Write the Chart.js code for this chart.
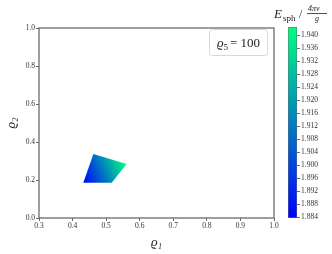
<!DOCTYPE html>
<html>
<head>
<meta charset="utf-8">
<script src="https://cdn.jsdelivr.net/npm/chart.js@4.4.0/dist/chart.umd.min.js"></script>
<style>
  body { margin: 0; background: #fff; }
  #wrap { position: relative; width: 332px; height: 254px; }
  #main { position: absolute; left: 0; top: 0; }
  #cbar { position: absolute; left: 280px; top: 0; }
</style>
</head>
<body>
<div id="wrap">
  <canvas id="main" width="332" height="254"></canvas>
  <canvas id="cbar" width="52" height="254"></canvas>
</div>
<script>
// region corners (rho1, rho2), closed
const polyX = [0.432, 0.462, 0.561, 0.5165, 0.432];
const polyY = [0.186, 0.337, 0.284, 0.186, 0.186];
// energy at the low and high corners of the region
const eLow = 1.884;
const eHigh = 1.942;
const cbMin = 1.8837;
const cbMax = 1.9425;
const cbTicks = [1.884, 1.888, 1.892, 1.896, 1.900, 1.904, 1.908, 1.912, 1.916, 1.920, 1.924, 1.928, 1.932, 1.936, 1.940];
const rhoFive = 100;

const serif = '"Liberation Serif", "DejaVu Serif", serif';
const frameColor = '#6a6a6a';

function winter(v) {
  const t = Math.max(0, Math.min(1, (v - cbMin) / (cbMax - cbMin)));
  return 'rgb(0,' + Math.round(255 * t) + ',' + Math.round(255 * (1 - 0.5 * t)) + ')';
}

const points = polyX.map((x, i) => ({x: x, y: polyY[i]}));

const framePlugin = {
  id: 'frame',
  afterDraw(chart) {
    const {ctx, chartArea: a} = chart;
    ctx.save();
    ctx.strokeStyle = frameColor;
    ctx.lineWidth = 1.3;
    ctx.strokeRect(a.left, a.top, a.right - a.left, a.bottom - a.top);

    // legend-like label box
    const bx = 209.5, by = 29.5, bw = 58, bh = 26, r = 3;
    ctx.fillStyle = 'rgba(255,255,255,0.8)';
    ctx.strokeStyle = '#d8d8d8';
    ctx.lineWidth = 1;
    ctx.beginPath();
    ctx.roundRect(bx, by, bw, bh, r);
    ctx.fill();
    ctx.stroke();
    ctx.fillStyle = '#222';
    ctx.textBaseline = 'alphabetic';
    ctx.font = 'italic 13px ' + serif;
    ctx.fillText('ϱ', 217, 47);
    ctx.font = '9px ' + serif;
    ctx.fillText('5', 223.5, 50);
    ctx.font = '13px ' + serif;
    ctx.fillText('= ' + rhoFive, 230, 47);

    // colorbar title
    ctx.font = 'italic 13px ' + serif;
    ctx.fillText('E', 274, 18);
    ctx.font = '9px ' + serif;
    ctx.fillText('sph', 283, 21);
    ctx.font = '12px ' + serif;
    ctx.fillText('/', 299, 18);
    ctx.font = 'italic 8px ' + serif;
    ctx.fillText('4πv', 308, 11);
    ctx.fillText('g', 315, 21);
    ctx.fillRect(307, 13, 20, 0.8);
    ctx.restore();
  }
};

new Chart(document.getElementById('main'), {
  type: 'scatter',
  data: {
    datasets: [{
      data: points,
      showLine: true,
      fill: 'shape',
      pointRadius: 0,
      borderWidth: 0,
      borderColor: 'rgba(0,0,0,0)',
      backgroundColor: function (c) {
        const chart = c.chart;
        if (!chart.chartArea) return winter(eLow);
        const sx = chart.scales.x, sy = chart.scales.y;
        const g = chart.ctx.createLinearGradient(
          sx.getPixelForValue(polyX[0]), sy.getPixelForValue(polyY[0]),
          sx.getPixelForValue(polyX[2]), sy.getPixelForValue(polyY[2]));
        g.addColorStop(0, winter(eLow));
        g.addColorStop(1, winter(eHigh));
        return g;
      }
    }]
  },
  options: {
    responsive: false,
    animation: false,
    layout: {padding: {left: 0, top: 28, right: 58, bottom: 0}},
    plugins: {legend: {display: false}, tooltip: {enabled: false}},
    scales: {
      x: {
        type: 'linear', min: 0.3, max: 1.0,
        afterFit(s) { s.height = 36; },
        ticks: {stepSize: 0.1, color: '#333', padding: 1, font: {family: serif, size: 7.5},
          callback: v => v.toFixed(1), maxRotation: 0},
        grid: {drawOnChartArea: false, tickLength: 3, color: frameColor},
        border: {display: false},
        title: {display: true, text: 'ϱ₁', color: '#222', padding: {top: 3},
          font: {family: serif, size: 13, style: 'italic'}}
      },
      y: {
        type: 'linear', min: 0, max: 1.0,
        afterFit(s) { s.width = 39; },
        ticks: {stepSize: 0.2, color: '#333', padding: 1, font: {family: serif, size: 7.5},
          callback: v => v.toFixed(1)},
        grid: {drawOnChartArea: false, tickLength: 3, color: frameColor},
        border: {display: false},
        title: {display: true, text: 'ϱ₂', color: '#222', padding: {bottom: 0},
          font: {family: serif, size: 13, style: 'italic'}}
      }
    }
  },
  plugins: [framePlugin]
});

new Chart(document.getElementById('cbar'), {
  type: 'bar',
  data: {
    labels: ['E'],
    datasets: [{
      data: [[cbMin, cbMax]],
      barPercentage: 1,
      categoryPercentage: 1,
      borderWidth: 0.8,
      borderColor: frameColor,
      borderSkipped: false,
      backgroundColor: function (c) {
        const chart = c.chart;
        if (!chart.chartArea) return winter(cbMin);
        const a = chart.chartArea;
        const g = chart.ctx.createLinearGradient(0, a.bottom, 0, a.top);
        g.addColorStop(0, winter(cbMin));
        g.addColorStop(1, winter(cbMax));
        return g;
      }
    }]
  },
  options: {
    responsive: false,
    animation: false,
    layout: {padding: {left: 8, top: 27, right: 0, bottom: 36}},
    plugins: {legend: {display: false}, tooltip: {enabled: false}},
    scales: {
      x: {display: false},
      y: {
        position: 'right', min: cbMin, max: cbMax,
        afterFit(s) { s.width = 35; },
        afterBuildTicks(s) { s.ticks = cbTicks.map(v => ({value: v})); },
        ticks: {color: '#333', padding: 1, font: {family: serif, size: 7.5},
          callback: v => v.toFixed(3)},
        grid: {drawOnChartArea: false, tickLength: 3, color: frameColor},
        border: {display: false}
      }
    }
  }
});
</script>
</body>
</html>
